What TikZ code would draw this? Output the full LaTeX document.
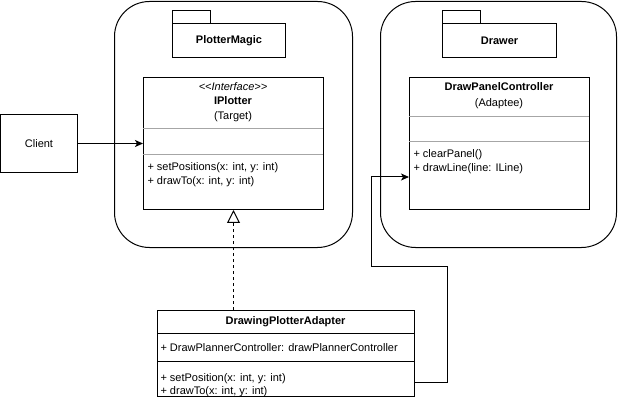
\documentclass[tikz,border=0pt]{standalone}
\usepackage{fontspec}
\setmainfont{Liberation Sans}
\usetikzlibrary{arrows.meta,calc}
\begin{document}
\begin{tikzpicture}[x=1pt,y=-1pt,line width=1pt,
  every node/.style={font=\fontsize{11}{13}\selectfont, inner sep=0pt},
  pkg/.style={draw, rounded corners=35pt, anchor=north west},
  box/.style={draw, fill=white, anchor=north west},
  sep/.style={draw=black!35},
  bsep/.style={draw=black},
  title/.style={font=\fontsize{11}{13}\selectfont\bfseries},
  member/.style={anchor=west},
  arr/.style={-{Stealth[length=8pt,width=7pt,inset=2pt]}}
]
\useasboundingbox (0,0) rectangle (619,409);

% packages
\node[pkg, minimum width=238pt, minimum height=246pt] (pm) at (114,1) {};
\node[pkg, minimum width=236pt, minimum height=246pt] (dr) at (380,1) {};

% folder icons
\node[box, minimum width=38pt, minimum height=13pt] (pmtab) at (172,10) {};
\node[box, minimum width=113pt, minimum height=34pt, title] (pmname) at (172,23) {PlotterMagic};
\node[box, minimum width=38pt, minimum height=13pt] (drtab) at (442,10) {};
\node[box, minimum width=114pt, minimum height=34pt, title] (drname) at (442,23) {Drawer};

% client
\node[box, minimum width=77pt, minimum height=58pt] (client) at (0,114) {Client};

% IPlotter
\node[box, minimum width=180pt, minimum height=132pt] (ip) at (143,77) {};
\draw[sep] (143,129) -- (323,129);
\draw[sep] (143,155) -- (323,155);
\node (ipst) at (233,87) {\itshape <{}<Interface>{}>};
\node[title] (ipname) at (233,100.5) {IPlotter};
\node (iprole) at (233,117) {(Target)};
\node[member] (ipm1) at (147,168) {+ setPositions(x: int, y: int)};
\node[member] (ipm2) at (147,181.5) {+ drawTo(x: int, y: int)};

% DrawPanelController
\node[box, minimum width=180pt, minimum height=132pt] (dpc) at (409,77) {};
\draw[sep] (409,117) -- (589,117);
\draw[sep] (409,142) -- (589,142);
\node[title] (dpcname) at (499,86.5) {DrawPanelController};
\node (dpcrole) at (499,104) {(Adaptee)};
\node[member] (dpcm1) at (413,155) {+ clearPanel()};
\node[member] (dpcm2) at (413,168.5) {+ drawLine(line: ILine)};

% Adapter
\node[box, minimum width=257pt, minimum height=86pt] (ad) at (157,310) {};
\draw[bsep] (157,333) -- (414,333);
\draw[bsep] (157,361) -- (414,361);
\node[title] (adname) at (285.5,322) {DrawingPlotterAdapter};
\node[member] (ada1) at (160,348) {+ DrawPlannerController: drawPlannerController};
\node[member] (adm1) at (160,378.5) {+ setPosition(x: int, y: int)};
\node[member] (adm2) at (160,392) {+ drawTo(x: int, y: int)};

% connectors
\draw[arr] (client.east) -- (client.east -| ip.west);
\draw[dashed, dash pattern=on 3pt off 3pt, -{Triangle[open,length=13pt,width=13pt,line width=1pt]}]
  (ad.north -| ip.south) -- (ip.south);
\coordinate (adout) at (414,382);
\coordinate (dpcin) at (409,177);
\draw[arr] (adout) -- (447,382) -- (447,266) -- (371,266) -- (371,177) -- (dpcin);
\end{tikzpicture}
\end{document}
